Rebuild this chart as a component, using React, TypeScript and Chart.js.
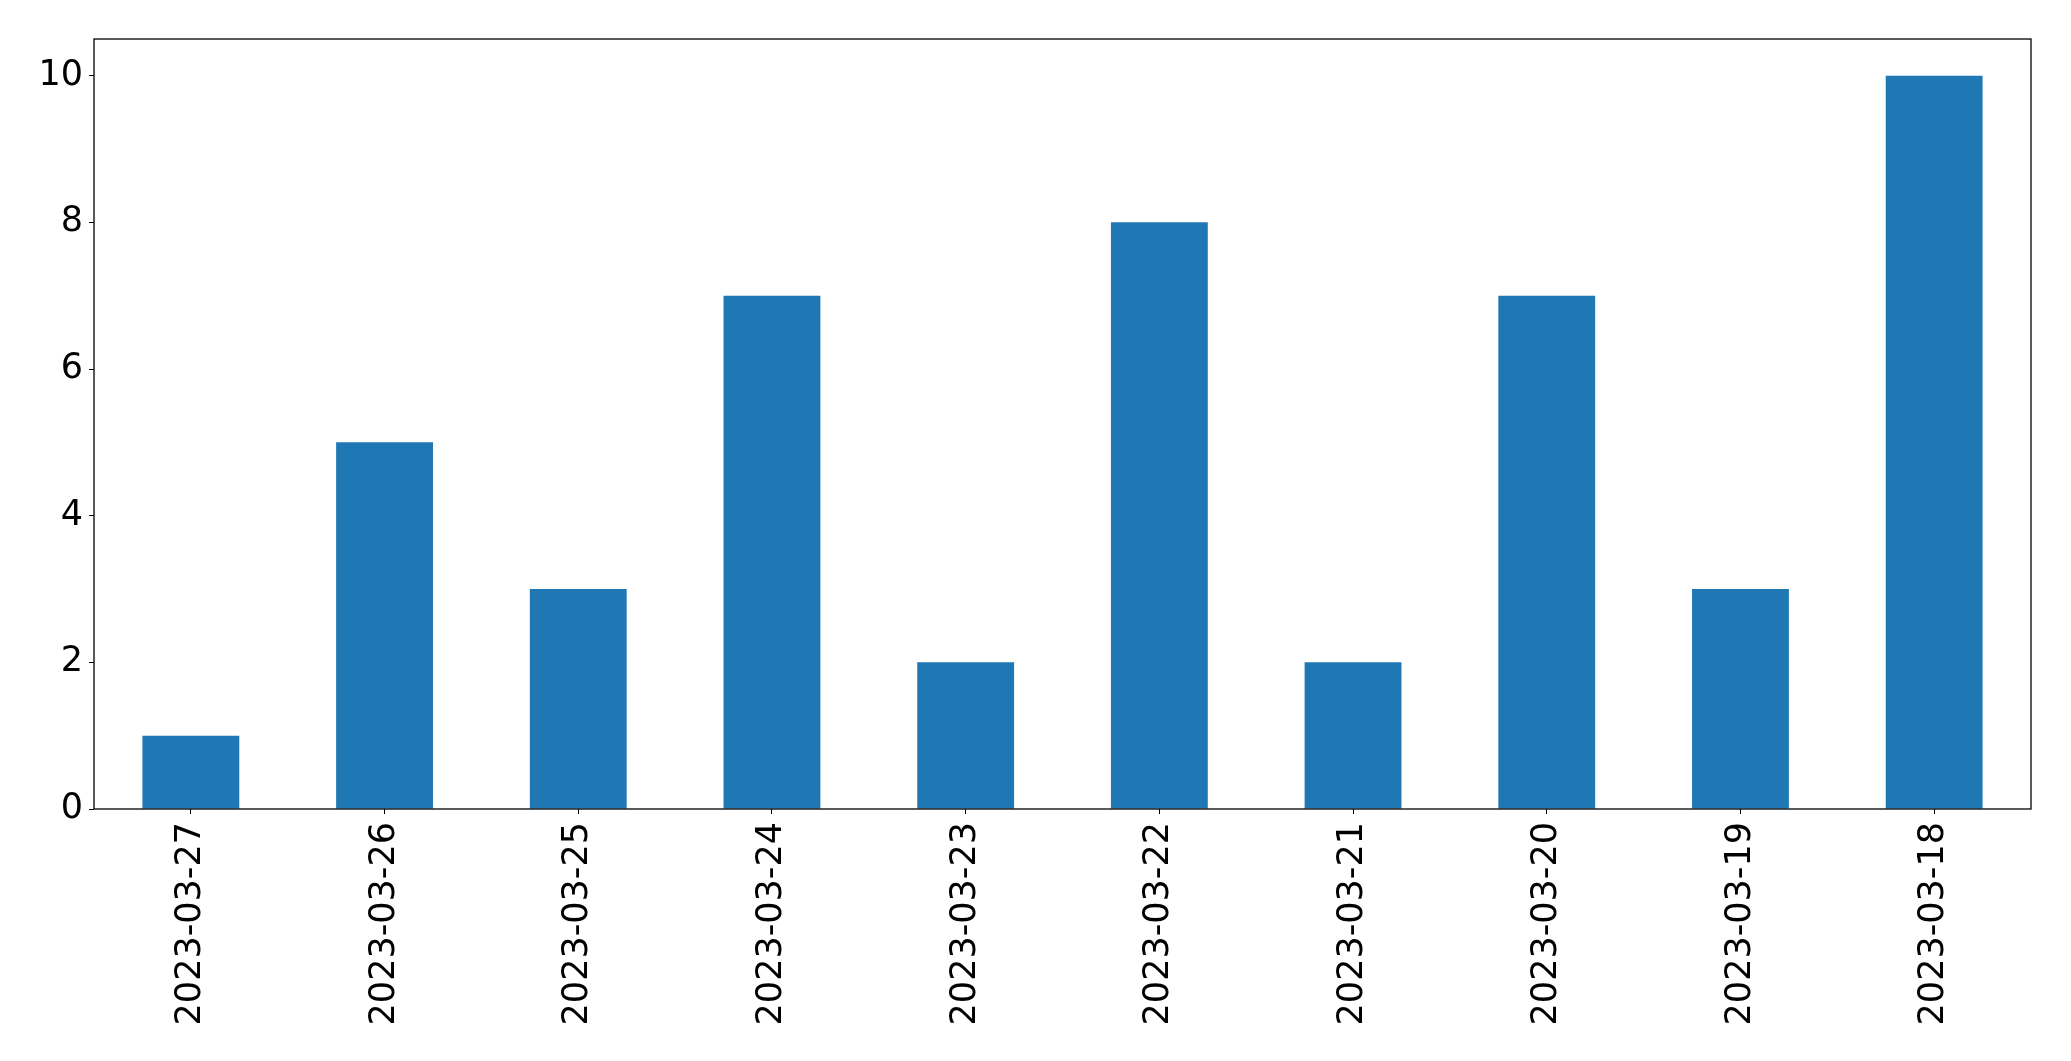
import React, { useEffect, useRef } from "react";
import { Chart, registerables } from "chart.js";

Chart.register(...registerables);

const categories = [
  "2023-03-27",
  "2023-03-26",
  "2023-03-25",
  "2023-03-24",
  "2023-03-23",
  "2023-03-22",
  "2023-03-21",
  "2023-03-20",
  "2023-03-19",
  "2023-03-18",
];
const counts = [1, 5, 3, 7, 2, 8, 2, 7, 3, 10];
const yTicks = [0, 2, 4, 6, 8, 10];

const frame = {
  id: "frame",
  afterDraw(chart: any) {
    const { ctx, chartArea } = chart;
    ctx.save();
    ctx.strokeStyle = "#000";
    ctx.lineWidth = 1.3;
    ctx.strokeRect(chartArea.left, chartArea.top, chartArea.right - chartArea.left, chartArea.bottom - chartArea.top);
    ctx.restore();
  },
};

export default function App() {
  const ref = useRef<HTMLCanvasElement>(null);
  useEffect(() => {
    document.body.style.margin = "0";
    const font = { family: "DejaVu Sans", size: 35 };
    const chart = new Chart(ref.current!, {
      type: "bar",
      data: {
        labels: categories,
        datasets: [
          {
            data: counts,
            backgroundColor: "#1f77b4",
            categoryPercentage: 1,
            barPercentage: 0.5,
          },
        ],
      },
      options: {
        animation: false,
        responsive: false,
        devicePixelRatio: 1,
        layout: { padding: { top: 39, right: 40, left: 0, bottom: 0 } },
        plugins: { legend: { display: false }, tooltip: { enabled: false } },
        scales: {
          x: {
            offset: true,
            grid: { display: true, drawOnChartArea: false, drawTicks: true, tickLength: 5, color: "#000", offset: false },
            border: { display: false },
            ticks: { color: "#000", font, minRotation: 90, maxRotation: 90, padding: 8 },
            afterFit(scale: any) {
              scale.height = 252;
            },
          },
          y: {
            min: 0,
            max: 10.5,
            grid: { display: true, drawOnChartArea: false, drawTicks: true, tickLength: 5, color: "#000" },
            border: { display: false },
            ticks: { color: "#000", font, padding: 6, stepSize: 2 },
            afterBuildTicks(scale: any) {
              scale.ticks = yTicks.map((v) => ({ value: v }));
            },
            afterFit(scale: any) {
              scale.width = 94;
            },
          },
        },
      },
      plugins: [frame],
    });
    return () => chart.destroy();
  }, []);
  return <canvas ref={ref} width={2071} height={1061} style={{ display: "block" }} />;
}
